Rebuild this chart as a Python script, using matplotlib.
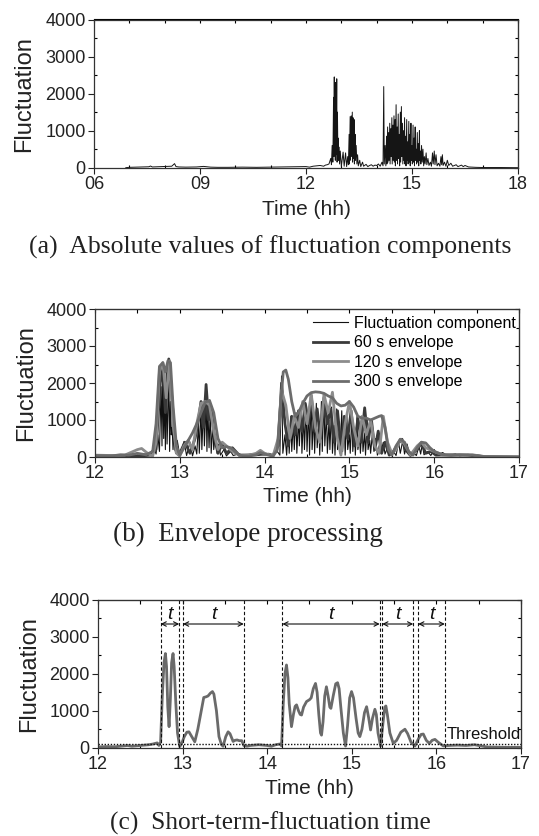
# Recriando a figura de flutuacao (a), (b), (c)
import matplotlib
matplotlib.use('Agg')
import matplotlib.pyplot as plt
from matplotlib.ticker import MultipleLocator

# ---------------- dados ----------------
# componente de flutuacao (valor absoluto), pares (hora, valor)
flutuacao = [
    (6.9, 0), (7.0, 10), (7.2, 15), (7.4, 20), (7.55, 25), (7.6, 45), (7.65, 20),
    (7.8, 25), (8.0, 30), (8.2, 40), (8.28, 110), (8.32, 30), (8.4, 20), (8.6, 15),
    (8.9, 20), (9.1, 35), (9.2, 25), (9.3, 15), (9.5, 10), (9.8, 10), (10.2, 15),
    (10.6, 10), (11.0, 15), (11.4, 20), (11.8, 25), (12.0, 30), (12.1, 15), (12.2, 40),
    (12.3, 50), (12.4, 60), (12.5, 40), (12.55, 70), (12.6, 80), (12.65, 100), (12.7, 250),
    (12.72, 80), (12.74, 600), (12.76, 150), (12.78, 1900), (12.79, 300), (12.80, 2450),
    (12.81, 500), (12.82, 1800), (12.83, 200), (12.84, 2300), (12.85, 350), (12.86, 1200),
    (12.87, 2400), (12.88, 150), (12.89, 1500), (12.90, 600), (12.91, 800), (12.92, 200),
    (12.93, 560), (12.95, 100), (12.97, 450), (13.0, 30), (13.05, 420), (13.08, 40),
    (13.12, 400), (13.15, 30), (13.18, 300), (13.2, 80), (13.22, 900), (13.23, 100),
    (13.25, 1380), (13.26, 200), (13.28, 1400), (13.29, 300), (13.31, 1500), (13.32, 150),
    (13.33, 1350), (13.345, 250), (13.36, 1300), (13.37, 100), (13.39, 900), (13.40, 200),
    (13.42, 600), (13.44, 100), (13.46, 350), (13.48, 50), (13.52, 200), (13.55, 30),
    (13.6, 150), (13.63, 40), (13.7, 90), (13.75, 30), (13.8, 60), (13.85, 80), (13.9, 40),
    (13.95, 70), (14.0, 60), (14.05, 100), (14.1, 40), (14.15, 150), (14.18, 50),
    (14.20, 2190), (14.215, 100), (14.24, 600), (14.26, 50), (14.28, 850), (14.29, 100),
    (14.31, 1100), (14.32, 150), (14.34, 950), (14.35, 200), (14.37, 1200), (14.38, 100),
    (14.40, 1050), (14.41, 300), (14.43, 1350), (14.44, 100), (14.46, 1150), (14.47, 200),
    (14.49, 1400), (14.50, 150), (14.52, 1300), (14.53, 50), (14.55, 1700), (14.56, 200),
    (14.58, 1100), (14.59, 100), (14.61, 1450), (14.62, 250), (14.64, 900), (14.65, 50),
    (14.67, 1500), (14.68, 150), (14.70, 1650), (14.71, 300), (14.73, 1200), (14.74, 100),
    (14.76, 1000), (14.77, 200), (14.79, 1350), (14.80, 100), (14.82, 850), (14.83, 50),
    (14.85, 1300), (14.86, 200), (14.88, 700), (14.89, 100), (14.91, 1250), (14.92, 150),
    (14.94, 900), (14.95, 50), (14.97, 1200), (14.98, 200), (15.00, 600), (15.01, 100),
    (15.03, 1150), (15.04, 150), (15.06, 800), (15.07, 50), (15.09, 1100), (15.10, 200),
    (15.12, 500), (15.13, 100), (15.15, 950), (15.16, 150), (15.18, 650), (15.19, 50),
    (15.21, 1000), (15.22, 200), (15.24, 450), (15.25, 100), (15.27, 600), (15.29, 150),
    (15.31, 500), (15.33, 50), (15.35, 300), (15.37, 100), (15.40, 400), (15.42, 80),
    (15.45, 250), (15.48, 60), (15.52, 150), (15.55, 40), (15.58, 400), (15.60, 100),
    (15.63, 450), (15.65, 80), (15.68, 350), (15.71, 50), (15.75, 120), (15.79, 40),
    (15.82, 300), (15.84, 80), (15.86, 350), (15.88, 60), (15.92, 150), (15.96, 40),
    (16.0, 200), (16.04, 60), (16.1, 120), (16.15, 40), (16.25, 80), (16.3, 30),
    (16.4, 70), (16.45, 30), (16.5, 60), (16.6, 20), (16.8, 10), (17.0, 5), (17.5, 5),
    (18.0, 0),
]

# envoltoria de 60 s
env60 = [
    (12.0, 40), (12.3, 30), (12.5, 20), (12.65, 50), (12.72, 200), (12.77, 2000),
    (12.80, 2450), (12.83, 1200), (12.87, 2650), (12.91, 1500), (12.95, 200), (12.99, 50),
    (13.06, 400), (13.12, 100), (13.18, 500), (13.22, 1000), (13.25, 1500), (13.28, 800),
    (13.31, 1960), (13.34, 1000), (13.37, 1350), (13.41, 500), (13.45, 100), (13.5, 350),
    (13.55, 100), (13.62, 250), (13.7, 50), (13.9, 60), (14.0, 80), (14.1, 50),
    (14.16, 300), (14.2, 2000), (14.24, 900), (14.28, 300), (14.32, 1100), (14.36, 600),
    (14.4, 1250), (14.44, 700), (14.48, 1450), (14.52, 900), (14.55, 1650), (14.59, 700),
    (14.62, 1300), (14.66, 500), (14.70, 1600), (14.74, 900), (14.78, 1300), (14.82, 400),
    (14.86, 1250), (14.9, 300), (14.94, 1100), (14.98, 500), (15.02, 1250), (15.06, 300),
    (15.10, 1050), (15.14, 400), (15.18, 1330), (15.22, 400), (15.26, 1000), (15.30, 200),
    (15.34, 700), (15.38, 100), (15.42, 400), (15.47, 50), (15.52, 150), (15.58, 380),
    (15.62, 480), (15.66, 200), (15.72, 40), (15.8, 200), (15.85, 380), (15.9, 100),
    (15.96, 150), (16.02, 50), (16.2, 60), (16.4, 50), (16.55, 10), (17.0, 0),
]

# envoltoria de 120 s
env120 = [
    (12.0, 50), (12.2, 40), (12.35, 50), (12.5, 200), (12.55, 230), (12.62, 100),
    (12.68, 20), (12.72, 400), (12.76, 2300), (12.80, 2550), (12.84, 1600), (12.88, 2600),
    (12.92, 900), (12.96, 100), (13.0, 30), (13.05, 300), (13.1, 450), (13.15, 200),
    (13.2, 900), (13.25, 1450), (13.3, 1500), (13.35, 1400), (13.4, 700), (13.45, 200),
    (13.5, 400), (13.55, 300), (13.62, 150), (13.7, 50), (13.8, 40), (13.9, 100),
    (13.95, 180), (14.0, 100), (14.1, 30), (14.16, 500), (14.2, 1800), (14.25, 1400),
    (14.3, 500), (14.35, 1100), (14.4, 800), (14.45, 1500), (14.5, 900), (14.55, 1700),
    (14.6, 800), (14.65, 400), (14.7, 1700), (14.75, 1200), (14.8, 1750), (14.85, 600),
    (14.9, 50), (14.95, 900), (15.0, 1500), (15.05, 800), (15.1, 300), (15.15, 1100),
    (15.2, 600), (15.25, 1000), (15.3, 300), (15.35, 100), (15.4, 1100), (15.45, 400),
    (15.5, 100), (15.55, 200), (15.6, 480), (15.65, 350), (15.72, 60), (15.8, 300),
    (15.85, 400), (15.9, 250), (16.0, 150), (16.1, 60), (16.3, 50), (16.45, 60),
    (16.6, 10), (17.0, 0),
]

# envoltoria de 300 s
env300 = [
    (12.0, 40), (12.2, 30), (12.3, 60), (12.4, 50), (12.5, 100), (12.6, 60), (12.68, 150),
    (12.72, 900), (12.76, 2450), (12.8, 2550), (12.83, 2300), (12.86, 2600), (12.89, 2550),
    (12.92, 1400), (12.96, 300), (13.0, 50), (13.05, 250), (13.1, 450), (13.15, 650),
    (13.2, 900), (13.25, 1200), (13.3, 1480), (13.35, 1530), (13.4, 1200), (13.45, 500),
    (13.5, 250), (13.55, 280), (13.6, 250), (13.65, 150), (13.7, 50), (13.8, 20),
    (13.9, 60), (13.95, 120), (14.0, 80), (14.1, 20), (14.15, 200), (14.18, 1200),
    (14.22, 2300), (14.25, 2350), (14.28, 2100), (14.32, 1500), (14.36, 1100), (14.4, 1200),
    (14.45, 1450), (14.5, 1650), (14.55, 1740), (14.6, 1760), (14.65, 1750), (14.7, 1720),
    (14.75, 1650), (14.8, 1600), (14.85, 1450), (14.9, 1380), (14.95, 1400), (15.0, 1500),
    (15.05, 1350), (15.1, 1100), (15.15, 1050), (15.2, 1050), (15.25, 1000), (15.3, 1050),
    (15.35, 1100), (15.38, 1120), (15.42, 800), (15.46, 200), (15.5, 50), (15.55, 300),
    (15.6, 480), (15.65, 400), (15.7, 150), (15.75, 50), (15.8, 250), (15.85, 400),
    (15.9, 380), (15.95, 250), (16.0, 150), (16.1, 60), (16.2, 40), (16.3, 60),
    (16.45, 50), (16.6, 10), (17.0, 0),
]

# curva usada para o tempo de flutuacao de curto prazo (c)
curva_c = [
    (12.0, 20), (12.1, 30), (12.2, 25), (12.3, 50), (12.35, 60), (12.4, 40), (12.5, 60),
    (12.55, 70), (12.6, 80), (12.65, 100), (12.7, 130), (12.72, 60), (12.74, 150),
    (12.76, 1400), (12.78, 2300), (12.797, 2550), (12.81, 2200), (12.825, 1100),
    (12.84, 570), (12.855, 1300), (12.87, 2300), (12.887, 2550), (12.90, 2200),
    (12.92, 1200), (12.94, 400), (12.966, 30), (12.99, 120), (13.02, 300), (13.05, 420),
    (13.075, 430), (13.1, 330), (13.144, 160), (13.18, 500), (13.22, 1000), (13.25, 1360),
    (13.28, 1380), (13.30, 1400), (13.33, 1480), (13.353, 1520), (13.37, 1450),
    (13.40, 1000), (13.43, 300), (13.46, 80), (13.479, 40), (13.51, 300), (13.538, 430),
    (13.56, 380), (13.597, 170), (13.62, 200), (13.644, 210), (13.67, 190), (13.70, 190),
    (13.723, 60), (13.76, 40), (13.8, 60), (13.9, 80), (14.0, 60), (14.05, 40), (14.1, 80),
    (14.15, 100), (14.17, 50), (14.19, 1200), (14.21, 2000), (14.228, 2240),
    (14.245, 1900), (14.26, 1200), (14.287, 570), (14.31, 900), (14.33, 1120),
    (14.347, 1160), (14.37, 1000), (14.39, 900), (14.406, 885), (14.43, 1100),
    (14.465, 1250), (14.5, 1300), (14.52, 1350), (14.545, 1600), (14.571, 1740),
    (14.59, 1500), (14.61, 900), (14.63, 400), (14.642, 340), (14.66, 700), (14.68, 1400),
    (14.70, 1650), (14.72, 1400), (14.74, 1100), (14.753, 1065), (14.78, 1400),
    (14.81, 1730), (14.832, 1760), (14.85, 1600), (14.87, 1100), (14.9, 400),
    (14.926, 45), (14.95, 600), (14.975, 1350), (14.997, 1520), (15.02, 1350),
    (15.05, 800), (15.075, 400), (15.095, 300), (15.12, 500), (15.15, 950), (15.175, 1110),
    (15.2, 800), (15.222, 480), (15.245, 800), (15.273, 1040), (15.29, 900), (15.31, 400),
    (15.34, 45), (15.37, 700), (15.39, 1100), (15.403, 1130), (15.42, 900), (15.45, 400),
    (15.49, 117), (15.53, 200), (15.58, 420), (15.628, 500), (15.66, 380), (15.7, 150),
    (15.746, 45), (15.79, 250), (15.82, 360), (15.845, 370), (15.88, 200), (15.917, 117),
    (15.95, 200), (15.983, 225), (16.02, 150), (16.08, 50), (16.15, 60), (16.25, 70),
    (16.35, 60), (16.45, 80), (16.5, 60), (16.6, 20), (16.8, 10), (17.0, 10),
]

# limites dos intervalos de flutuacao (inicio, fim) e limiar
intervalos = [(12.74, 12.96), (13.005, 13.723), (14.18, 15.33), (15.36, 15.726), (15.785, 16.10)]
limiar = 100

ticks_a = [6, 9, 12, 15, 18]
rotulos_a = ['06', '09', '12', '15', '18']
ticks_bc = [12, 13, 14, 15, 16, 17]
ticks_y = [0, 1000, 2000, 3000, 4000]

legendas = ['Fluctuation component', '60 s envelope', '120 s envelope', '300 s envelope']
legendas_cap = ['(a)  Absolute values of fluctuation components',
                '(b)  Envelope processing',
                '(c)  Short-term-fluctuation time']

# ---------------- figura ----------------
plt.rcParams['font.family'] = ['Liberation Sans', 'DejaVu Sans']
W, H = 539, 836
fig = plt.figure(figsize=(W / 100, H / 100), dpi=100)


def caixa(esq, dir, topo, base):
    # converte pixels da imagem em fracao da figura
    return [esq / W, 1 - base / H, (dir - esq) / W, (base - topo) / H]


def estilo(ax, xmenor, ylab_x, xlab_y):
    ax.set_ylim(0, 4000)
    ax.set_yticks(ticks_y)
    ax.yaxis.set_minor_locator(MultipleLocator(500))
    ax.xaxis.set_minor_locator(MultipleLocator(xmenor))
    ax.tick_params(which='major', direction='out', length=4, width=0.8,
                   labelsize=13, pad=2, colors='#222222')
    ax.tick_params(which='minor', direction='in', length=2.5, width=0.8)
    for s in ax.spines.values():
        s.set_linewidth(0.9)
        s.set_color('#333333')
    # marcas internas no topo e na direita
    topo = ax.secondary_xaxis('top')
    topo.set_xticks(ax.get_xticks())
    topo.set_xticklabels([])
    topo.xaxis.set_minor_locator(MultipleLocator(xmenor))
    topo.tick_params(which='both', direction='in', length=3, width=0.8)
    dir = ax.secondary_yaxis('right')
    dir.set_yticks(ticks_y)
    dir.set_yticklabels([])
    dir.yaxis.set_minor_locator(MultipleLocator(500))
    dir.tick_params(which='major', direction='in', length=3, width=0.8)
    dir.tick_params(which='minor', direction='in', length=2, width=0.8)
    ax.set_ylabel('Fluctuation', fontsize=17, color='#222222')
    ax.set_xlabel('Time (hh)', fontsize=15, color='#222222')
    ax.yaxis.set_label_coords(ylab_x, 0.5)
    ax.xaxis.set_label_coords(0.5, xlab_y)
    ax.xaxis.label.set_va('center')
    ax.yaxis.label.set_va('center')


# Grafico (a)
ax_a = fig.add_axes(caixa(94, 518, 19.5, 167.7))
t, v = zip(*flutuacao)
ax_a.plot(t, v, color='#151515', lw=0.7)
ax_a.set_xlim(6, 18)
ax_a.set_xticks(ticks_a)
ax_a.set_xticklabels(rotulos_a)
estilo(ax_a, 1, -0.165, -0.285)

# Grafico (b)
ax_b = fig.add_axes(caixa(95, 519, 309, 457))
ax_b.plot(t, v, color='#111111', lw=0.8, label=legendas[0])
t60, v60 = zip(*env60)
ax_b.plot(t60, v60, color='#3a3a3a', lw=2.0, label=legendas[1])
t120, v120 = zip(*env120)
ax_b.plot(t120, v120, color='#8c8c8c', lw=2.0, label=legendas[2])
t300, v300 = zip(*env300)
ax_b.plot(t300, v300, color='#6c6c6c', lw=2.0, label=legendas[3])
ax_b.set_xlim(12, 17)
ax_b.set_xticks(ticks_bc)
estilo(ax_b, 0.5, -0.163, -0.268)
ax_b.legend(loc='upper left', bbox_to_anchor=((313 - 95) / 424, (457 - 316) / 148),
            frameon=False, fontsize=11.5, handlelength=2.2, handletextpad=0.35,
            labelspacing=0.28, borderpad=0, borderaxespad=0)

# Grafico (c)
ax_c = fig.add_axes(caixa(98, 521, 600, 747.7))
tc, vc = zip(*curva_c)
ax_c.plot(tc, vc, color='#6a6a6a', lw=2.0)
ax_c.axhline(limiar, color='#111111', lw=1.0, ls=(0, (1, 1.2)))
for ini, fim in intervalos:
    ax_c.axvline(ini, color='#111111', lw=0.8, ls=(0, (3, 2)))
    ax_c.axvline(fim, color='#111111', lw=0.8, ls=(0, (3, 2)))
    ax_c.annotate('', xy=(fim, 3350), xytext=(ini, 3350),
                  arrowprops=dict(arrowstyle='<->', lw=0.8, color='#111111',
                                  shrinkA=0, shrinkB=0, mutation_scale=8))
    ax_c.text((ini + fim) / 2, 3600, 't', style='italic', fontsize=14,
              ha='center', va='center', color='#111111')
ax_c.text(16.12, 150, 'Threshold', fontsize=12, ha='left', va='bottom', color='#111111')
ax_c.set_xlim(12, 17)
ax_c.set_xticks(ticks_bc)
estilo(ax_c, 0.5, -0.162, -0.274)

# Legendas das figuras (fonte serifada)
fig.text(270 / W, 1 - 247 / H, legendas_cap[0], family='Liberation Serif', fontsize=18.5,
         ha='center', va='center', color='#222222')
fig.text(248 / W, 1 - 534 / H, legendas_cap[1], family='Liberation Serif', fontsize=19.5,
         ha='center', va='center', color='#222222')
fig.text(270 / W, 1 - 823 / H, legendas_cap[2], family='Liberation Serif', fontsize=18.3,
         ha='center', va='center', color='#222222')

fig.savefig('out.png', dpi=100)
